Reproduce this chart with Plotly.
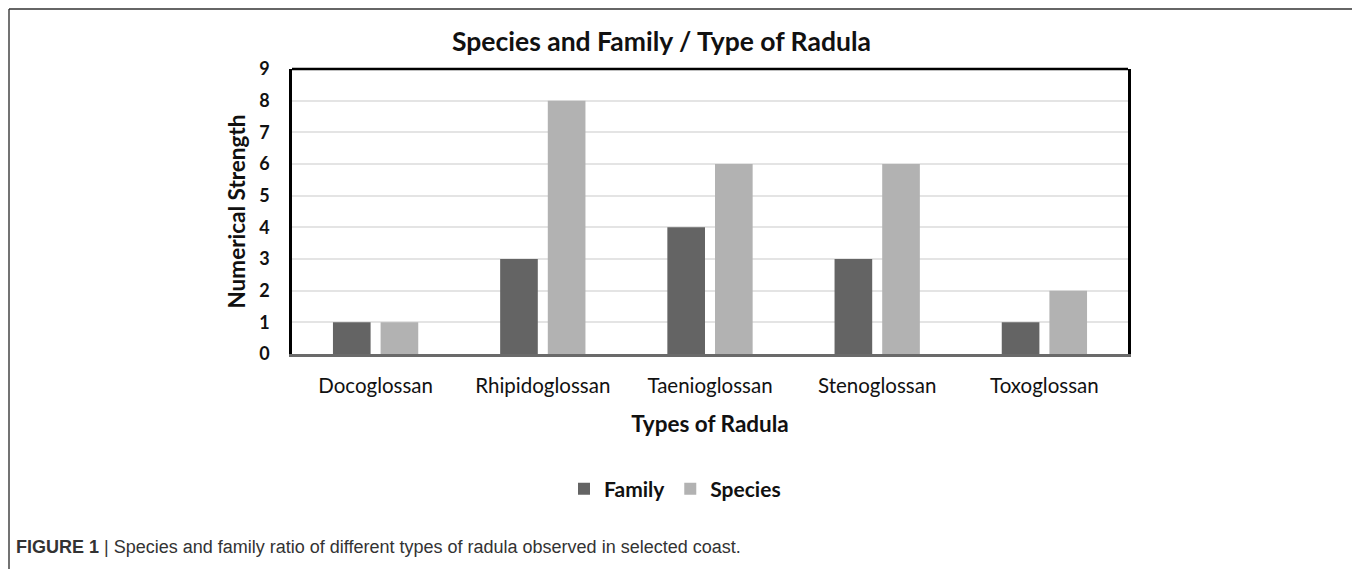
import plotly.graph_objects as go

categories = ["Docoglossan", "Rhipidoglossan", "Taenioglossan", "Stenoglossan", "Toxoglossan"]
family = [1, 3, 4, 3, 1]
species = [1, 8, 6, 6, 2]
y_ticks = [0, 1, 2, 3, 4, 5, 6, 7, 8, 9]

# page body has an 8px margin, so figure pixel = reference pixel - 8
W, H = 1352, 561
L, R, T, B = 284, 232, 61, 215


def pxx(x):
    return (x - L) / (W - L - R)


def pxy(y):
    return (H - B - y) / (H - T - B)


fig = go.Figure()
fig.add_trace(go.Bar(name="<b>Family</b>", x=categories, y=family,
                     marker=dict(color="#646464", line=dict(width=0))))
fig.add_trace(go.Bar(name="<b>Species</b>", x=categories, y=species,
                     marker=dict(color="#b2b2b2", line=dict(width=0))))

font_main = "Lato, 'Open Sans', sans-serif"

fig.update_layout(
    width=W, height=H,
    margin=dict(l=L, r=R, t=T, b=B, pad=0),
    paper_bgcolor="white", plot_bgcolor="white",
    barmode="group", bargap=0.43, bargroupgap=0.21,
    font=dict(family=font_main, color="#000000"),
    title=dict(text="<b>Species and Family / Type of Radula</b>", x=444 / W, xanchor="left",
               y=1 - 34 / H, yanchor="middle", font=dict(size=26.5, color="#111111")),
    legend=dict(orientation="h", x=pxx(667), xanchor="center", y=pxy(481),
                yanchor="middle", font=dict(size=21, color="#111111"), itemwidth=30,
                traceorder="normal"),
    showlegend=True,
)
fig.update_yaxes(range=[0, 9], tickvals=y_ticks, ticktext=[f"<b>{v}</b>" for v in y_ticks],
                 tickfont=dict(size=18, color="#111111"), ticks="", ticklabelstandoff=16,
                 showgrid=True, gridcolor="#e4e4e4", gridwidth=1.5, zeroline=False,
                 showline=True, linecolor="#000000", linewidth=2.5, mirror=True,
                 title=dict(text="<b>Numerical Strength</b>", font=dict(size=22.5, color="#111111"), standoff=8))
fig.update_xaxes(tickfont=dict(size=20.5, color="#111111"), ticks="", ticklabelstandoff=12,
                 showline=True, linecolor="#6a6a6a", linewidth=2.5, mirror=False,
                 title=dict(text="<b>Types of Radula</b>", font=dict(size=22.5, color="#111111"), standoff=20))

# top border of plot box
fig.add_shape(type="line", xref="paper", yref="paper", x0=0, x1=1, y0=1, y1=1,
              line=dict(color="#000000", width=2.5))

# outer frame of figure
fig.add_shape(type="line", xref="paper", yref="paper", x0=pxx(1), x1=pxx(1), y0=pxy(1), y1=pxy(H + 5),
              line=dict(color="#444444", width=1.5))
fig.add_shape(type="line", xref="paper", yref="paper", x0=pxx(1), x1=pxx(1347), y0=pxy(1), y1=pxy(1),
              line=dict(color="#333333", width=1.5))
fig.add_shape(type="line", xref="paper", yref="paper", x0=pxx(1347), x1=pxx(1347), y0=pxy(1), y1=pxy(H + 5),
              line=dict(color="#888888", width=2))

fig.add_annotation(xref="paper", yref="paper", x=pxx(6), y=pxy(539),
                   xanchor="left", yanchor="middle", showarrow=False,
                   text="<b>FIGURE 1</b> | Species and family ratio of different types of radula observed in selected coast.",
                   font=dict(family="'Liberation Sans', Arial, sans-serif", size=18, color="#333333"))

fig.write_html("out.html")
